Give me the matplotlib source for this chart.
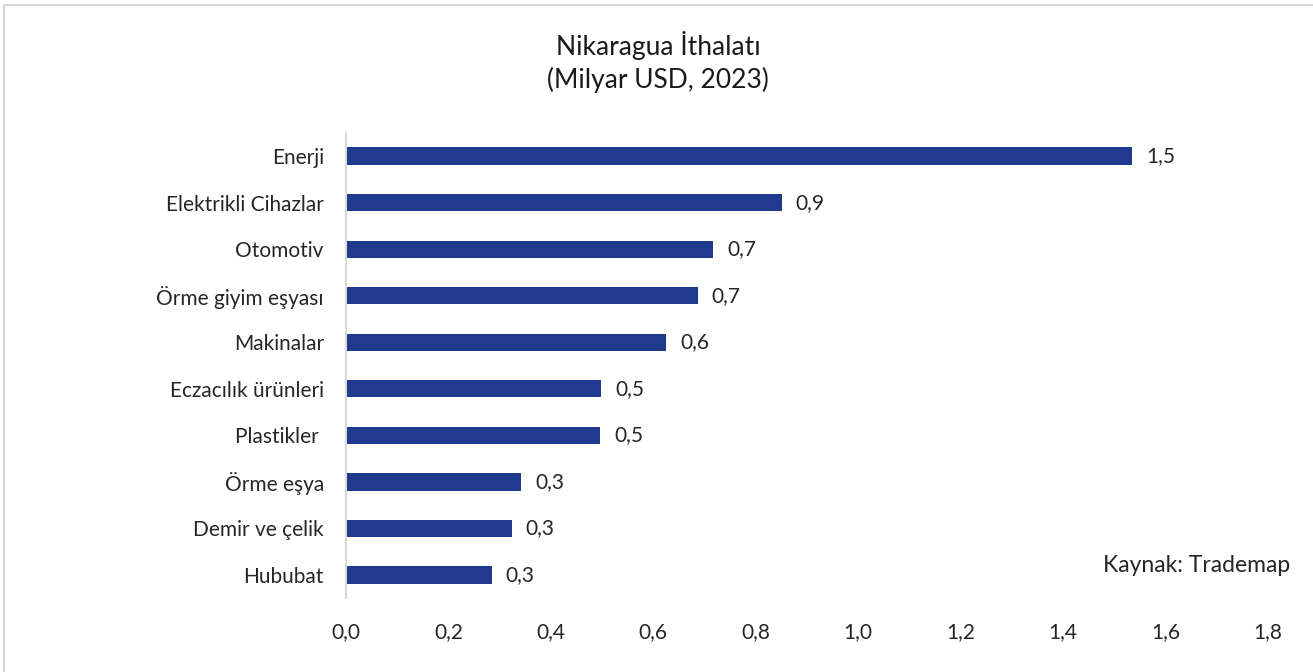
import matplotlib.pyplot as plt
from matplotlib.patches import Rectangle

# Nikaragua ithalati, milyar USD (2023)
categories = ["Enerji", "Elektrikli Cihazlar", "Otomotiv", "Örme giyim eşyası",
              "Makinalar", "Eczacılık ürünleri", "Plastikler ", "Örme eşya",
              "Demir ve çelik", "Hububat"]
values = [1.535, 0.851, 0.717, 0.687, 0.625, 0.498, 0.496, 0.342, 0.324, 0.285]
xticks = [0.0, 0.2, 0.4, 0.6, 0.8, 1.0, 1.2, 1.4, 1.6, 1.8]

plt.rcParams['font.family'] = ['Lato', 'DejaVu Sans']
text_col = '#262626'

fig = plt.figure(figsize=(13.13, 6.72), dpi=100)
ax = fig.add_axes([0.2635, 0.1097, 0.7022, 0.6927])

ypos = list(range(len(categories)))
ax.barh(ypos, values, height=0.37, color='#203A8F')
ax.set_ylim(len(categories) - 0.5, -0.5)
ax.set_xlim(0, 1.8)
ax.set_yticks(ypos)
ax.set_yticklabels(categories, fontsize=15, color=text_col)
ax.set_xticks(xticks)
ax.set_xticklabels([f"{t:.1f}".replace('.', ',') for t in xticks],
                   fontsize=15, color=text_col)
ax.tick_params(axis='y', length=0, pad=16)
ax.tick_params(axis='x', length=0, pad=17)

for s in ['top', 'right', 'bottom']:
    ax.spines[s].set_visible(False)
ax.spines['left'].set_color('#D9D9D9')
ax.spines['left'].set_linewidth(1.5)

for y, v in zip(ypos, values):
    ax.annotate(f"{v:.1f}".replace('.', ','), (v, y), xytext=(10, 0),
                textcoords='offset points', va='center', ha='left',
                fontsize=15, color=text_col)

fig.text(0.501, 0.932, "Nikaragua İthalatı", ha='center', va='center',
         fontsize=19, color='#1a1a1a')
fig.text(0.501, 0.881, "(Milyar USD, 2023)", ha='center', va='center',
         fontsize=19, color='#1a1a1a')
fig.text(0.983, 0.159, "Kaynak: Trademap", ha='right', va='center',
         fontsize=16.5, color=text_col)

# chart border
fig.patches.append(Rectangle((4 / 1313, -0.05), 1.1, 1.0 - 5 / 672 + 0.05,
                             transform=fig.transFigure, fill=False,
                             edgecolor='#D9D9D9', linewidth=1.5))

fig.savefig("out.png", dpi=100)
